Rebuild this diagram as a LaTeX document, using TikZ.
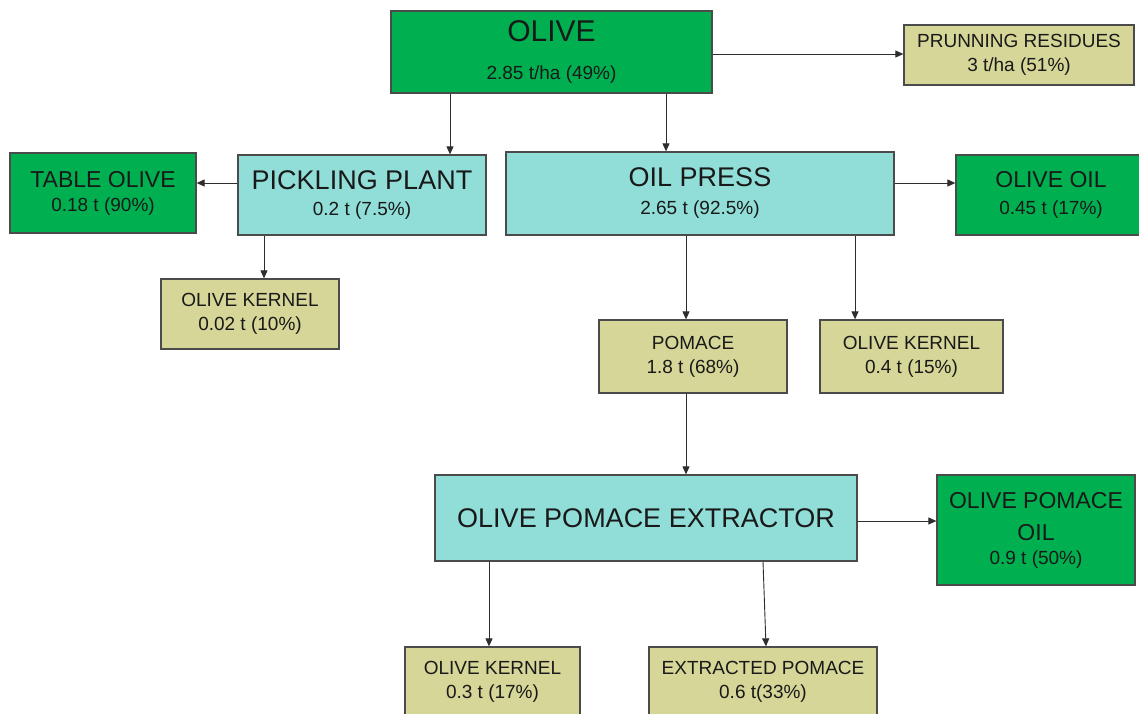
\documentclass[tikz,border=0pt]{standalone}
\usepackage{fontspec}
\setmainfont{Liberation Sans}
\usetikzlibrary{arrows.meta}
\definecolor{dgreen}{RGB}{0,176,80}
\definecolor{cyanb}{RGB}{145,222,216}
\definecolor{khaki}{RGB}{214,214,152}
\definecolor{edgec}{RGB}{75,75,75}
\definecolor{linec}{RGB}{45,45,45}
\definecolor{txt}{RGB}{25,25,25}
\newcommand\fhuge{\fontsize{30}{33}\selectfont}
\newcommand\fbig{\fontsize{27}{30}\selectfont}
\newcommand\fmed{\fontsize{23}{26}\selectfont}
\newcommand\fsml{\fontsize{19}{24}\selectfont}
\begin{document}
\begin{tikzpicture}[x=1pt,y=-1pt,
  box/.style={draw=edgec, line width=1.3pt, inner sep=0pt, align=center,
              text=txt, font=\fsml},
  gbox/.style={box, fill=dgreen},
  cbox/.style={box, fill=cyanb},
  kbox/.style={box, fill=khaki},
  arr/.style={draw=linec, line width=0.9pt, -{Triangle[length=8pt,width=7pt]}}
]
\useasboundingbox (0,0) rectangle (1139,713);
\clip (0,0) rectangle (1139,713);
\fill[white] (0,0) rectangle (1139,713);

\node[gbox, minimum width=321pt, minimum height=82pt] (olive) at (551.5,52)
  {{\fhuge OLIVE}\\[14pt]2.85 t/ha (49\%)};
\node[kbox, minimum width=230pt, minimum height=60pt] (prun) at (1019,55)
  {PRUNNING RESIDUES\\3 t/ha (51\%)};
\node[gbox, minimum width=186pt, minimum height=80pt] (table) at (103,193)
  {{\fmed TABLE OLIVE}\\0.18 t (90\%)};
\node[cbox, minimum width=248pt, minimum height=80pt] (pick) at (362,195)
  {{\fbig PICKLING PLANT}\\[2pt]0.2 t (7.5\%)};
\node[cbox, minimum width=388pt, minimum height=83pt] (press) at (700,193.5)
  {{\fbig OIL PRESS}\\[4pt]2.65 t (92.5\%)};
\node[gbox, minimum width=190pt, minimum height=80pt] (oil) at (1051,195)
  {{\fmed OLIVE OIL}\\[3pt]0.45 t (17\%)};
\node[kbox, minimum width=178pt, minimum height=70pt] (kern1) at (250,314)
  {OLIVE KERNEL\\0.02 t (10\%)};
\node[kbox, minimum width=188pt, minimum height=73pt] (pomace) at (693,356.5)
  {POMACE\\1.8 t (68\%)};
\node[kbox, minimum width=183pt, minimum height=73pt] (kern2) at (911.5,356.5)
  {OLIVE KERNEL\\0.4 t (15\%)};
\node[cbox, minimum width=422pt, minimum height=86pt] (extr) at (646,518)
  {{\fbig OLIVE POMACE EXTRACTOR}};
\node[gbox, minimum width=198pt, minimum height=110pt] (poil) at (1036,530)
  {{\fmed OLIVE POMACE}\\[8pt]{\fmed OIL}\\0.9 t (50\%)};
\node[kbox, minimum width=175pt, minimum height=70pt] (kern3) at (492.5,682)
  {OLIVE KERNEL\\0.3 t (17\%)};
\node[kbox, minimum width=228pt, minimum height=70pt] (extp) at (763,682)
  {EXTRACTED POMACE\\0.6 t(33\%)};

\draw[arr] (olive.east |- 0,54) -- (prun.west |- 0,54);
\draw[arr] (olive.south -| 450,0) -- (pick.north -| 450,0);
\draw[arr] (olive.south -| 666,0) -- (press.north -| 666,0);
\draw[arr] (pick.west |- 0,183) -- (table.east |- 0,183);
\draw[arr] (pick.south -| 264,0) -- (kern1.north -| 264,0);
\draw[arr] (press.east |- 0,183) -- (oil.west |- 0,183);
\draw[arr] (press.south -| 686,0) -- (pomace.north -| 686,0);
\draw[arr] (press.south -| 855,0) -- (kern2.north -| 855,0);
\draw[arr] (pomace.south -| 686,0) -- (extr.north -| 686,0);
\draw[arr] (extr.east |- 0,521) -- (poil.west |- 0,521);
\draw[arr] (extr.south -| 489,0) -- (kern3.north -| 489,0);
\draw[arr] (extr.south -| 763,0) -- (extp.north -| 766,0);
\end{tikzpicture}
\end{document}
